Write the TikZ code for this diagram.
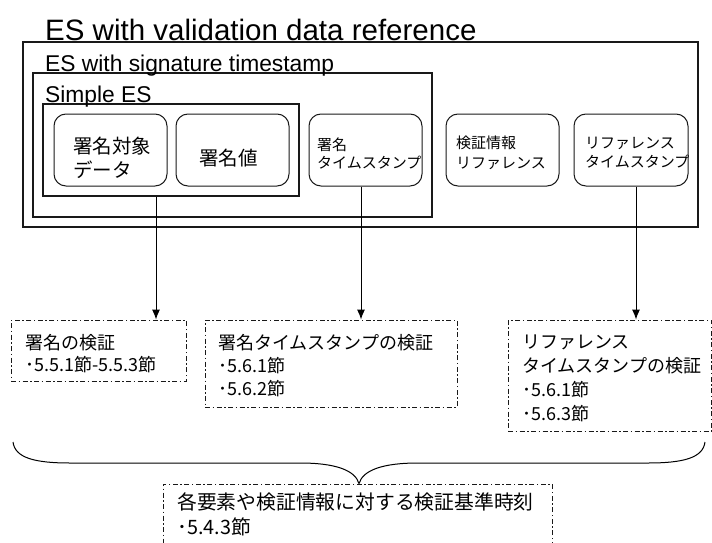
\documentclass[tikz,border=0pt]{standalone}
\usepackage{fontspec}
\setmainfont{Liberation Sans}
\newfontfamily\jp{Noto Sans CJK JP}
\usetikzlibrary{arrows.meta}
\tikzset{
  frame/.style={draw=black!90, line width=1.1pt, rectangle, inner sep=0pt},
  rbox/.style={draw=black!90, line width=1pt, rectangle, rounded corners=12pt, inner sep=0pt, minimum width=113pt, minimum height=72pt},
  vbox/.style={draw=black!90, line width=0.9pt, rectangle, inner sep=0pt, dash pattern=on 5pt off 2.5pt on 1.5pt off 2.5pt},
  ttl/.style={inner sep=0pt, anchor=base west},
  jtxt/.style={inner sep=0pt, anchor=west, align=left},
  arr/.style={line width=1pt, -{Latex[length=10pt,width=8pt]}},
}
\begin{document}
\begin{tikzpicture}[x=1pt,y=-1pt]
\useasboundingbox (0,0) rectangle (712,543);
% frames
\node[frame, minimum width=675pt, minimum height=185pt] (outer) at (360.5,134.5) {};
\node[frame, minimum width=399pt, minimum height=144pt] (sig) at (232.5,145) {};
\node[frame, minimum width=256pt, minimum height=92pt] (simple) at (171,150) {};
\node[ttl, font=\fontsize{29.5}{30}\selectfont] (t1) at (45,41) {ES with validation data reference};
\node[ttl, font=\fontsize{22.8}{24}\selectfont] (t2) at (45,71) {ES with signature timestamp};
\node[ttl, font=\fontsize{22.8}{24}\selectfont] (t3) at (45,102) {Simple ES};
% rounded boxes
\node[rbox] (rb1) at (110.5,150) {};
\node[rbox] (rb2) at (232.5,150) {};
\node[rbox] (rb3) at (365.5,150) {};
\node[rbox] (rb4) at (502.5,150) {};
\node[rbox, minimum width=114pt] (rb5) at (631,150) {};
\node[jtxt, font=\jp\fontsize{19.5}{23.5}\selectfont] (rt1) at (73,158) {署名対象\\データ};
\node[inner sep=0pt, font=\jp\fontsize{19.5}{23.5}\selectfont] (rt2) at (228.5,158) {署名値};
\node[jtxt, font=\jp\fontsize{15}{18}\selectfont] (rt3) at (317,154) {署名\\タイムスタンプ};
\node[jtxt, font=\jp\fontsize{15}{19.5}\selectfont] (rt4) at (456,153) {検証情報\\リファレンス};
\node[jtxt, font=\jp\fontsize{15}{19}\selectfont] (rt5) at (585,153) {リファレンス\\タイムスタンプ};
% verification boxes
\node[vbox, minimum width=175pt, minimum height=61pt] (v1) at (98.5,350.5) {};
\node[vbox, minimum width=252pt, minimum height=87pt] (v2) at (331,363.5) {};
\node[vbox, minimum width=203.5pt, minimum height=111pt] (v3) at (609.75,375.5) {};
\node[vbox, minimum width=389pt, minimum height=76pt] (v4) at (357.5,522) {};
\node[jtxt, font=\jp\fontsize{18}{21.5}\selectfont] (vt1) at (25,353.5) {署名の検証\\･5.5.1節-5.5.3節};
\node[jtxt, font=\jp\fontsize{18}{23}\selectfont] (vt2) at (218,366) {署名タイムスタンプの検証\\･5.6.1節\\･5.6.2節};
\node[jtxt, font=\jp\fontsize{18}{24}\selectfont] (vt3) at (522,378) {リファレンス\\タイムスタンプの検証\\･5.6.1節\\･5.6.3節};
\node[jtxt, font=\jp\fontsize{19.8}{25}\selectfont] (vt4) at (177,514.5) {各要素や検証情報に対する検証基準時刻\\･5.4.3節};
% arrows
\coordinate (c1) at (156,0);
\coordinate (c2) at (361,0);
\coordinate (c3) at (636,0);
\draw[arr] (simple.south -| c1) -- (v1.north -| c1);
\draw[arr] (rb3.south -| c2) -- (v2.north -| c2);
\draw[arr] (rb5.south -| c3) -- (v3.north -| c3);
% brace
\coordinate (bl) at (13,442);
\coordinate (br) at (705,442);
\draw[line width=1pt] (bl) .. controls (15,458) and (35,463) .. (70,463) -- (300,463)
  .. controls (335,463) and (355,470) .. (v4.north -| 359,0)
  .. controls (363,470) and (383,463) .. (418,463) -- (648,463)
  .. controls (683,463) and (703,458) .. (br);
\end{tikzpicture}
\end{document}
